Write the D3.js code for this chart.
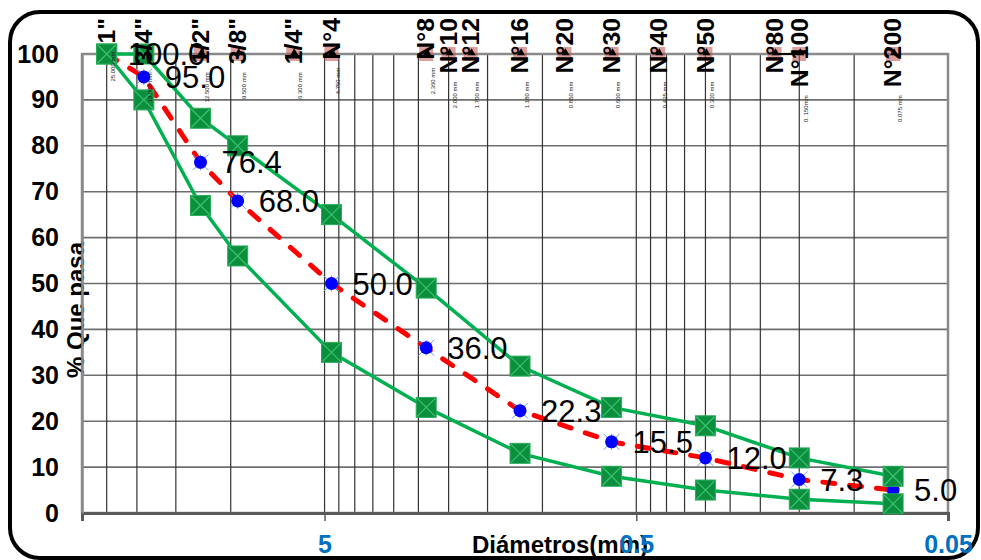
<!DOCTYPE html>
<html>
<head>
<meta charset="utf-8">
<script src="https://cdn.jsdelivr.net/npm/d3@7"></script>
<style>
  body { margin: 0; background: #fff; }
  text { font-family: Arial, "Liberation Sans", sans-serif; }
</style>
</head>
<body>
<svg id="chart" width="981" height="560"></svg>
<script>
// Sieve series (ASTM)
const sieveNames = ['1"', '3/4"', '1/2"', '3/8"', '1/4"', 'N°4', 'N°8', 'N°10', 'N°12', 'N°16', 'N°20', 'N°30', 'N°40', 'N°50', 'N°80', 'N°100', 'N°200'];
const sieveSizes = [25, 19, 12.5, 9.5, 6.3, 4.75, 2.36, 2.0, 1.7, 1.18, 0.85, 0.6, 0.425, 0.3, 0.18, 0.15, 0.075];
const sieveMm = ['25.000 mm', '19.000 mm', '12.500 mm', '9.500 mm', '6.300 mm', '4.750 mm', '2.360 mm', '2.000 mm', '1.700 mm', '1.180 mm', '0.850 mm', '0.600 mm', '0.425 mm', '0.300 mm', '', '0. 150mm', '0.075 mm'];
const joinedSieves = ['N°80', 'N°100'];

// Gradation test: sieve opening (mm) and % passing
const testSizes = [25, 19, 12.5, 9.5, 4.75, 2.36, 1.18, 0.6, 0.3, 0.15, 0.075];
const passing = [100.0, 95.0, 76.4, 68.0, 50.0, 36.0, 22.3, 15.5, 12.0, 7.3, 5.0];
const upperLimit = [100, 100, 86, 80, 65, 49, 32, 23, 19, 12, 8];
const lowerLimit = [100, 90, 67, 56, 35, 23, 13, 8, 5, 3, 2];

// Axis ticks and grid
const gridSizes = [25, 20, 15, 10, 5, 4.5, 4, 3.5, 3, 2.5, 2, 1.5, 1, 0.5, 0.45, 0.4, 0.35, 0.3, 0.25, 0.2, 0.15, 0.1];
const xTicks = [5, 0.5, 0.05];
const yTicks = d3.range(0, 101, 10);

const svg = d3.select('#chart');
const x = d3.scaleLog().domain([30, 0.05]).range([82, 948]);
const y = d3.scaleLinear().domain([0, 100]).range([513, 54]);

// rounded chart frame
svg.append('rect')
  .attr('x', 10).attr('y', 12).attr('width', 968).attr('height', 546)
  .attr('rx', 30).attr('fill', 'none').attr('stroke', '#000').attr('stroke-width', 4);

// grid
svg.append('g').selectAll('line').data(yTicks.filter(v => v > 0 && v < 100)).join('line')
  .attr('x1', x(30)).attr('x2', x(0.05))
  .attr('y1', d => y(d)).attr('y2', d => y(d))
  .attr('stroke', '#6e6e6e').attr('stroke-width', 1.6);
svg.append('g').selectAll('line').data(gridSizes).join('line')
  .attr('x1', d => x(d)).attr('x2', d => x(d))
  .attr('y1', y(0)).attr('y2', y(100))
  .attr('stroke', '#333').attr('stroke-width', 1.2);

// plot frame
svg.append('rect')
  .attr('x', x(30)).attr('y', y(100))
  .attr('width', x(0.05) - x(30)).attr('height', y(0) - y(100))
  .attr('fill', 'none').attr('stroke', '#8a8a8a').attr('stroke-width', 2.5);

// axis titles
svg.append('text')
  .attr('x', 560).attr('y', 553).attr('text-anchor', 'middle')
  .attr('font-size', 24).attr('font-weight', 'bold').attr('fill', '#000')
  .text('Diámetros(mm)');
svg.append('text')
  .attr('transform', 'translate(75,310) rotate(-90)')
  .attr('text-anchor', 'middle').attr('dy', '0.36em')
  .attr('font-size', 24).attr('font-weight', 'bold').attr('fill', '#000')
  .text('% Que pasa');

// x axis
const xAxis = svg.append('g')
  .attr('transform', `translate(0,${y(0)})`)
  .call(d3.axisBottom(x).tickValues(xTicks).tickSize(8).tickFormat(d3.format('~g')));
xAxis.select('.domain').attr('stroke', '#595959').attr('stroke-width', 3);
xAxis.selectAll('.tick line').attr('stroke', '#595959').attr('stroke-width', 1.5);
xAxis.selectAll('.tick text')
  .attr('y', 40).attr('dy', 0)
  .attr('fill', '#0070c0').attr('font-size', 25).attr('font-weight', 'bold')
  .attr('font-family', 'Arial, "Liberation Sans", sans-serif');

// y axis
const yAxis = svg.append('g')
  .attr('transform', `translate(${x(30)},0)`)
  .call(d3.axisLeft(y).tickValues(yTicks).tickSize(0).tickPadding(23));
yAxis.select('.domain').attr('stroke', '#8a8a8a').attr('stroke-width', 2.5);
yAxis.selectAll('.tick text')
  .attr('fill', '#000').attr('font-size', 25).attr('font-weight', 'bold')
  .attr('font-family', 'Arial, "Liberation Sans", sans-serif');

// sieve markers on the 100 % line
const sieves = sieveNames.map((n, i) => ({ n, s: sieveSizes[i], mm: sieveMm[i] }));
svg.append('g').selectAll('rect').data(sieves).join('rect')
  .attr('x', d => x(d.s) - 7).attr('y', y(100) - 7)
  .attr('width', 14).attr('height', 14)
  .attr('fill', '#c0504d').attr('opacity', 0.55);
svg.append('path')
  .datum(sieves.filter(d => joinedSieves.includes(d.n)))
  .attr('d', d3.line().x(d => x(d.s)).y(y(100)))
  .attr('stroke', '#000').attr('stroke-width', 2);
svg.append('g').selectAll('path').data(sieves).join('path')
  .attr('transform', d => `translate(${x(d.s) + 1},${y(100) - 1})`)
  .attr('d', d3.symbol(d3.symbolTriangle, 28))
  .attr('fill', '#000');

const series = vals => testSizes.map((s, i) => ({ s, v: vals[i] }));
const line = d3.line().x(d => x(d.s)).y(d => y(d.v));

// gradation curve
const grad = series(passing);
svg.append('path').datum(grad)
  .attr('d', line).attr('fill', 'none')
  .attr('stroke', '#ff0000').attr('stroke-width', 5)
  .attr('stroke-linecap', 'round').attr('stroke-dasharray', '12,15');
const dots = svg.append('g').selectAll('g').data(grad).join('g')
  .attr('transform', d => `translate(${x(d.s)},${y(d.v)})`);
dots.append('path')
  .attr('d', 'M-8,-8L8,8M8,-8L-8,8M0,-8V8')
  .attr('stroke', '#6d9be0').attr('stroke-width', 1);
dots.append('circle').attr('r', 6.5).attr('fill', '#0000ff');

// specification limits
const limits = [series(upperLimit), series(lowerLimit)];
svg.append('g').selectAll('path').data(limits).join('path')
  .attr('d', line).attr('fill', 'none')
  .attr('stroke', '#00b050').attr('stroke-width', 3.5);
const sq = svg.append('g').selectAll('g').data(limits.flat()).join('g')
  .attr('transform', d => `translate(${x(d.s)},${y(d.v)})`);
sq.append('rect')
  .attr('x', -10).attr('y', -10).attr('width', 20).attr('height', 20)
  .attr('fill', '#0b8e3e').attr('stroke', '#2bab5c').attr('stroke-width', 1);
sq.append('path')
  .attr('d', 'M-9,-9L9,9M9,-9L-9,9')
  .attr('stroke', '#3cc36e').attr('stroke-width', 1.2);

// value labels of the gradation curve
svg.append('g').selectAll('text').data(grad).join('text')
  .attr('x', d => x(d.s) + 21).attr('y', d => y(d.v)).attr('dy', '0.36em')
  .attr('font-size', 31).attr('fill', '#000')
  .text(d => d3.format('.1f')(d.v));

// sieve names and openings
const labelTop = 18;
const names = svg.append('g').selectAll('text').data(sieves).join('text')
  .attr('transform', d => `translate(${x(d.s)},${labelTop}) rotate(-90) scale(1.08,1)`)
  .attr('text-anchor', 'end').attr('dy', '0.36em')
  .attr('font-size', 23).attr('font-weight', 'bold').attr('fill', '#000')
  .text(d => d.n);
names.each(function (d) { d.len = this.getComputedTextLength() * 1.08; });
svg.append('g').selectAll('text').data(sieves.filter(d => d.mm)).join('text')
  .attr('transform', d => `translate(${x(d.s) + 6.5},${labelTop + d.len + 8}) rotate(-90)`)
  .attr('text-anchor', 'end').attr('dy', '0.35em')
  .attr('font-size', 6).attr('fill', '#222')
  .text(d => d.mm);
</script>
</body>
</html>
